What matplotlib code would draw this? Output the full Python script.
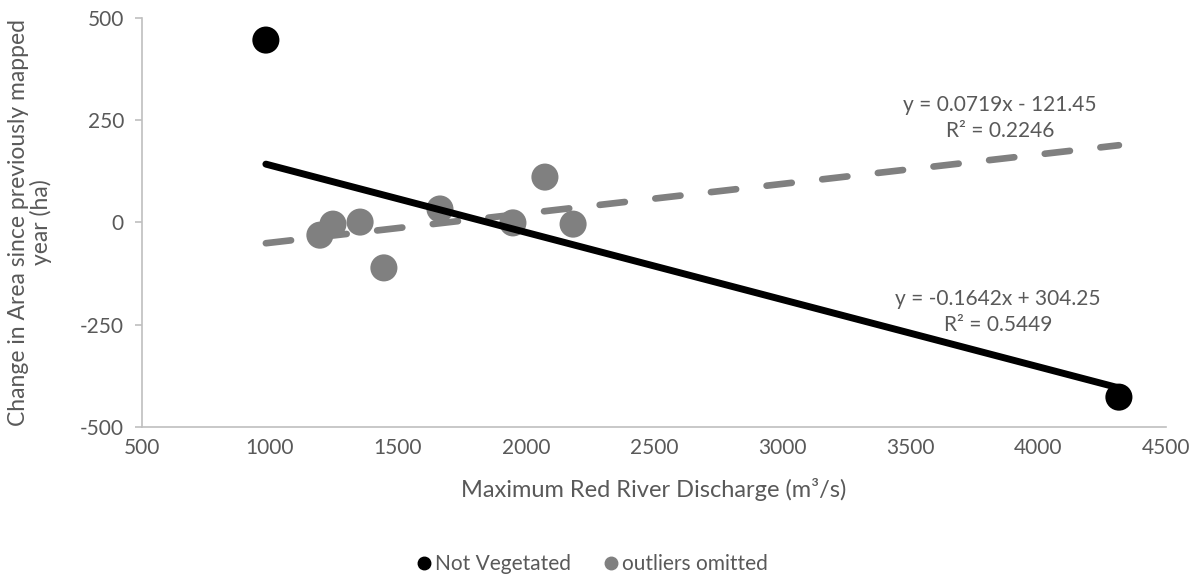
import numpy as np
import matplotlib
matplotlib.use("Agg")
import matplotlib.pyplot as plt
from matplotlib.lines import Line2D

plt.rcParams['font.family'] = ['Lato', 'DejaVu Sans']
plt.rcParams['axes.unicode_minus'] = False

# Data
not_veg_x = [984, 4316]
not_veg_y = [446, -427]
omitted_x = [1195, 1246, 1352, 1445, 1664, 1949, 2074, 2184]
omitted_y = [-31, -4, 1, -111, 33, -1, 111, -4]

# trendline equations as printed on the chart (slope, intercept)
black_fit = (-0.1642, 304.25)
gray_fit = (0.0719, -121.45)
fit_range = [984, 4316]

xticks = [500, 1000, 1500, 2000, 2500, 3000, 3500, 4000, 4500]
yticks = [-500, -250, 0, 250, 500]

TXT = '#595959'
AXC = '#bfbfbf'
GRAY = '#808080'

fig = plt.figure(figsize=(11.98, 5.80), dpi=100)
ax = fig.add_axes([0.1185, 0.2638, 0.8548, 0.7052])

xs = np.array(fit_range, dtype=float)
ax.plot(xs, gray_fit[0] * xs + gray_fit[1], color=GRAY, lw=4.8,
        dashes=(3.8, 4.6), dash_capstyle='round', zorder=2)
ax.scatter(omitted_x, omitted_y, s=380, color=GRAY, edgecolors='none', zorder=3)
ax.plot(xs, black_fit[0] * xs + black_fit[1], color='black', lw=5,
        solid_capstyle='round', zorder=4)
ax.scatter(not_veg_x, not_veg_y, s=380, color='black', edgecolors='none', zorder=5)

# trendline labels
ax.text(0.838, 0.755, "y = 0.0719x - 121.45\nR\u00b2 = 0.2246", transform=ax.transAxes,
        ha='center', va='center', fontsize=15, color=TXT, linespacing=1.4)
ax.text(0.836, 0.281, "y = -0.1642x + 304.25\nR\u00b2 = 0.5449", transform=ax.transAxes,
        ha='center', va='center', fontsize=15, color=TXT, linespacing=1.4)

ax.set_xlim(500, 4500)
ax.set_ylim(-500, 500)
ax.set_xticks(xticks)
ax.set_yticks(yticks)

for s in ['top', 'right']:
    ax.spines[s].set_visible(False)
for s in ['left', 'bottom']:
    ax.spines[s].set_color(AXC)
    ax.spines[s].set_linewidth(1.2)
ax.tick_params(axis='y', length=5, width=1.2, color=AXC, labelcolor=TXT,
               labelsize=15, pad=8)
ax.tick_params(axis='x', length=0, labelcolor=TXT, labelsize=15, pad=8)

ax.set_xlabel("Maximum Red River Discharge (m\u00b3/s)", fontsize=17, color=TXT, labelpad=14)
ax.set_ylabel("Change in Area since previously mapped\nyear (ha)", fontsize=16.5,
              color=TXT, labelpad=20, linespacing=1.05)

handles = [Line2D([], [], marker='o', ls='none', color='black', markersize=9),
           Line2D([], [], marker='o', ls='none', color=GRAY, markersize=9)]
fig.legend(handles, ["Not Vegetated", "outliers omitted"], loc='center',
           bbox_to_anchor=(0.493, 0.027), ncol=2, frameon=False, fontsize=15,
           handletextpad=0.05, columnspacing=1.4, labelcolor=TXT, handlelength=1.0)

fig.savefig("out.png", dpi=100)
